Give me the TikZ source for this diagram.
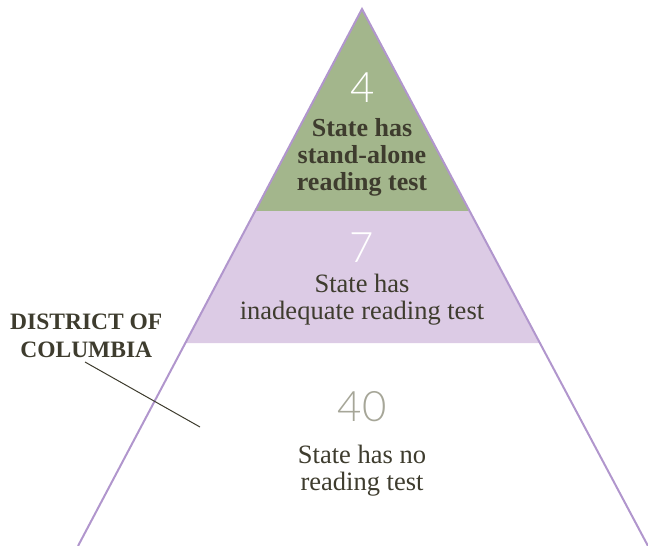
\documentclass[tikz,border=0pt]{standalone}
\usepackage{fontspec}
\setmainfont{Liberation Serif}
\newfontfamily\numfont{Lato Light}
\definecolor{tiergreen}{HTML}{A3B68C}
\definecolor{tierpurple}{HTML}{DCCBE5}
\definecolor{edgepurple}{HTML}{B196CD}
\definecolor{ink}{HTML}{3E3C2E}
\definecolor{numgrey}{HTML}{A6A698}
\tikzset{
  numlabel/.style={font=\numfont\fontsize{42}{42}\selectfont, inner sep=0pt},
  tiertext/.style={font=\fontsize{26.5}{27}\selectfont, text=ink, align=center, inner sep=0pt},
  tierbold/.style={tiertext, font=\bfseries\fontsize{26}{27}\selectfont},
  edge/.style={draw=edgepurple, line width=2pt},
}
\begin{document}
\begin{tikzpicture}[x=1pt,y=-1pt]
\useasboundingbox (0,0) rectangle (648,546);
\coordinate (apex) at (362,9);
\coordinate (gl) at (255,211);
\coordinate (gr) at (469,211);
\coordinate (pl) at (185,343);
\coordinate (pr) at (539,343);
\coordinate (bl) at (78,546);
\coordinate (br) at (648,546);
\fill[tiergreen] (apex) -- (gl) -- (gr) -- cycle;
\fill[tierpurple] (gl) -- (gr) -- (pr) -- (pl) -- cycle;
\draw[edge] (bl) -- (apex) -- (br);
\node[numlabel, text=white] (n4) at (363,88) {4};
\node[tierbold] (t4) at (362,157) {State has\\stand-alone\\reading test};
\node[numlabel, text=white] (n7) at (362,248) {7};
\node[tiertext] (t7) at (362,300) {State has\\inadequate reading test};
\node[numlabel, text=numgrey] (n40) at (362,407) {40};
\node[tiertext] (t40) at (362,471) {State has no\\reading test};
\node[font=\bfseries\fontsize{23.5}{28}\selectfont, text=ink, align=center, inner sep=0pt, anchor=west] (dc) at (10,336) {DISTRICT OF\\COLUMBIA};
\coordinate (dcstart) at (85,362);
\coordinate (dcend) at (200,427);
\draw[ink, line width=1pt] (dcstart) -- (dcend);
\end{tikzpicture}
\end{document}
